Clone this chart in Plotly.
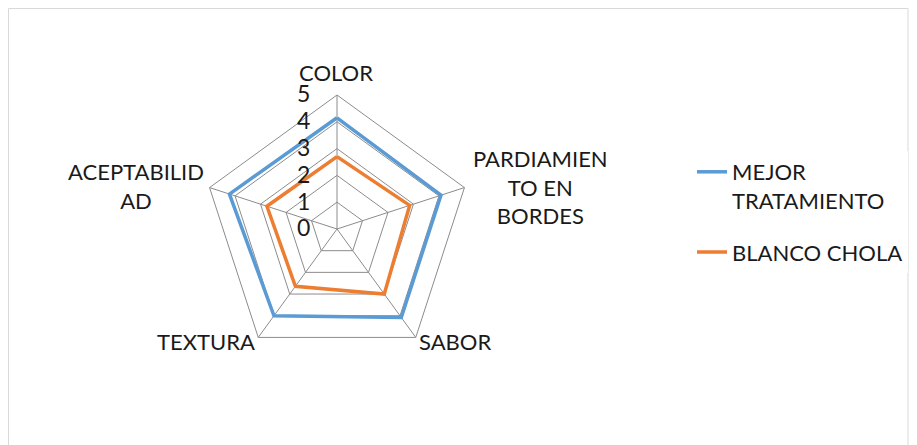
import plotly.graph_objects as go

# Radar chart: sensory evaluation
categorias = ["COLOR", "PARDIAMIENTO EN BORDES", "SABOR", "TEXTURA", "ACEPTABILIDAD"]
etiquetas = ["COLOR", "PARDIAMIEN<br>TO EN<br>BORDES", "SABOR", "TEXTURA", "ACEPTABILID<br>AD"]
mejor_tratamiento = [4.15, 4.08, 4.08, 4.0, 4.22]
blanco_chola = [2.7, 2.85, 3.0, 2.64, 2.75]
escala = [0, 1, 2, 3, 4, 5]

FONT = "Lato"
FS = 22
GRID = "#8c8c8c"

fig = go.Figure()
fig.add_trace(go.Scatterpolar(
    r=mejor_tratamiento + mejor_tratamiento[:1],
    theta=categorias + categorias[:1],
    mode="lines", name="MEJOR<br>TRATAMIENTO", legendgroup="a",
    line=dict(color="#5b9bd5", width=3.5),
))
fig.add_trace(go.Scatterpolar(
    r=blanco_chola + blanco_chola[:1],
    theta=categorias + categorias[:1],
    mode="lines", name="BLANCO CHOLA", legendgroup="b",
    line=dict(color="#ed7d31", width=3.5),
))

# page has an 8px body margin, so figure coords = page coords - 8
W, H = 909, 437
OFF = 8
cx, cy, rad = 337 - OFF, 229 - OFF, 134


def px(x):
    return (x - OFF) / W


def py(y):
    return 1 - (y - OFF) / H


# label centres (page px) for the category names
label_pos = [(336, 73), (540, 187), (455, 341), (206, 341), (136, 186)]
annotations = [
    dict(text=t, x=px(x), y=py(y), xref="paper", yref="paper",
         showarrow=False, align="center", xanchor="center", yanchor="middle",
         font=dict(family=FONT, size=FS, color="#1a1a1a"))
    for t, (x, y) in zip(etiquetas, label_pos)
]

fig.update_layout(
    width=W, height=H,
    margin=dict(l=0, r=0, t=0, b=0),
    paper_bgcolor="white",
    font=dict(family=FONT, size=FS, color="#1a1a1a"),
    polar=dict(
        domain=dict(x=[(cx - rad) / W, (cx + rad) / W],
                    y=[(H - cy - rad) / H, (H - cy + rad) / H]),
        gridshape="linear",
        bgcolor="white",
        angularaxis=dict(
            rotation=90, direction="clockwise",
            categoryorder="array", categoryarray=categorias,
            showline=True, linecolor=GRID, linewidth=1,
            gridcolor=GRID, gridwidth=1,
            ticks="", showticklabels=False,
        ),
        radialaxis=dict(
            range=[0, 5], tickvals=escala, ticktext=[str(v) for v in escala],
            angle=90, side="counterclockwise",
            showline=False, gridcolor=GRID, gridwidth=1,
            ticks="outside", ticklen=18, tickcolor="rgba(0,0,0,0)",
            tickangle=90,
            tickfont=dict(family=FONT, size=23, color="#1a1a1a"),
        ),
    ),
    legend=dict(
        x=(692 - OFF) / W, y=1 - (151 - OFF) / H, xanchor="left", yanchor="top",
        valign="top", tracegroupgap=20,
        font=dict(family=FONT, size=FS),
    ),
    annotations=annotations,
    shapes=[dict(type="rect", xref="paper", yref="paper",
                 x0=0.5 / W, x1=900 / W, y0=-0.2, y1=1 - 0.5 / H,
                 line=dict(color="#d9d9d9", width=1))],
)

fig.write_html("out.html")
